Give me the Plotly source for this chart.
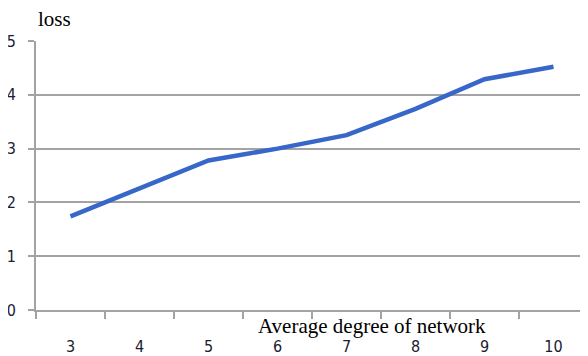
import plotly.graph_objects as go

categories = ["3", "4", "5", "6", "7", "8", "9", "10"]
loss = [1.74, 2.27, 2.78, 3.0, 3.25, 3.74, 4.29, 4.52]
y_ticks = [0, 1, 2, 3, 4, 5]

# the page body adds an 8px offset; figure is sized to compensate
OFF = 8
W, H = 588 - OFF, 356 - OFF
L, R, T, B = 36 - OFF, 0, 41 - OFF, 46

fig = go.Figure()
fig.add_trace(go.Scatter(
    x=categories, y=loss, mode="lines",
    line=dict(color="#3767c8", width=4.5),
    hoverinfo="skip", showlegend=False,
))

grey = "#a3a3a3"
tickfont = dict(family="DejaVu Sans Condensed, Liberation Sans Narrow, Arial", size=16,
                color="#1a2030")

fig.update_layout(
    width=W, height=H,
    margin=dict(l=L, r=R, t=T, b=B, autoexpand=False),
    paper_bgcolor="white", plot_bgcolor="white",
    xaxis=dict(
        type="category", tickson="boundaries", range=[-0.5, 7.5],
        showline=True, linecolor=grey, linewidth=2,
        ticks="outside", ticklen=7, tickcolor=grey, tickwidth=1.5,
        showgrid=False, tickfont=tickfont, ticklabelstandoff=21,
    ),
    yaxis=dict(
        range=[0, 5], tickvals=y_ticks,
        showline=True, linecolor=grey, linewidth=2,
        showgrid=True, gridcolor=grey, gridwidth=2,
        ticks="outside", ticklen=6, tickcolor=grey, tickwidth=2,
        tickfont=tickfont, ticklabelstandoff=9, zeroline=False,
    ),
)

pw, ph = W - L - R, H - T - B
def to_paper(sx, sy):
    # screen pixel -> paper coordinates
    return (sx - OFF - L) / pw, (H - B - (sy - OFF)) / ph

ax, ay = to_paper(36, 19)
bx, by = to_paper(372, 326)
serif = dict(family="Liberation Serif, Times New Roman", size=21, color="black")
fig.add_annotation(text="loss", x=ax, y=ay, xref="paper", yref="paper",
                   showarrow=False, xanchor="left", yanchor="middle", font=serif)
fig.add_annotation(text="Average degree of network", x=bx, y=by, xref="paper", yref="paper",
                   showarrow=False, xanchor="center", yanchor="middle", font=serif)

fig.write_html("out.html")
